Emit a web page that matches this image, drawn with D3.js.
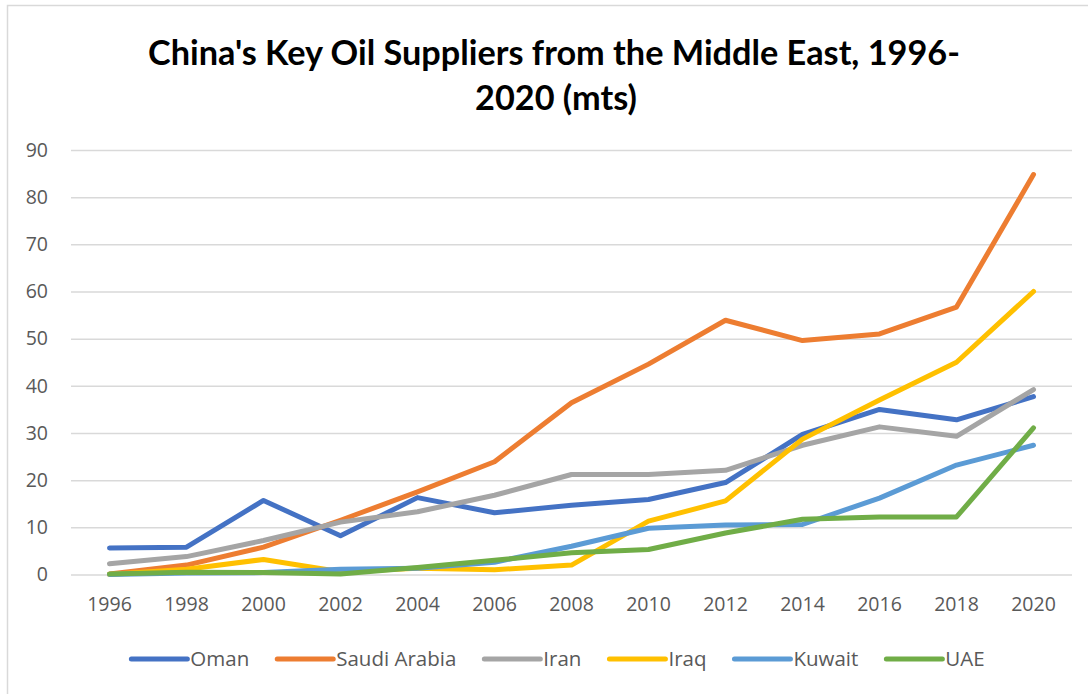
<!DOCTYPE html>
<html>
<head>
<meta charset="utf-8">
<script src="https://cdn.jsdelivr.net/npm/d3@7"></script>
<style>
  html, body { margin: 0; padding: 0; background: #fff; }
  svg { display: block; }
</style>
</head>
<body>
<svg id="chart" width="1088" height="694"></svg>
<script>
const years = ["1996","1998","2000","2002","2004","2006","2008","2010","2012","2014","2016","2018","2020"];
const yTicks = [0,10,20,30,40,50,60,70,80,90];
const seriesNames = ["Oman","Saudi Arabia","Iran","Iraq","Kuwait","UAE"];
const seriesColors = ["#4472C4","#ED7D31","#A5A5A5","#FFC000","#5B9BD5","#70AD47"];
const oman   = [5.6, 5.8, 15.7, 8.2, 16.3, 13.1, 14.7, 15.9, 19.5, 29.7, 35.0, 32.8, 37.7];
const saudi  = [0.1, 2.0, 5.8, 11.5, 17.5, 23.9, 36.4, 44.6, 53.9, 49.6, 51.0, 56.7, 84.8];
const iran   = [2.3, 3.8, 7.2, 11.1, 13.3, 16.8, 21.2, 21.2, 22.1, 27.4, 31.3, 29.3, 39.2];
const iraq   = [0.0, 1.1, 3.2, 0.6, 1.3, 1.0, 2.0, 11.3, 15.6, 28.7, 37.0, 45.0, 60.0];
const kuwait = [0.0, 0.3, 0.4, 1.1, 1.3, 2.6, 6.0, 9.8, 10.5, 10.6, 16.2, 23.2, 27.4];
const uae    = [0.1, 0.5, 0.4, 0.1, 1.5, 3.0, 4.6, 5.3, 8.8, 11.7, 12.2, 12.2, 31.1];
const seriesValues = [oman, saudi, iran, iraq, kuwait, uae];
const titleLines = ["China's Key Oil Suppliers from the Middle East, 1996-", "2020 (mts)"];

const svg = d3.select("#chart");

// outer chart border (only top/left visible in frame)
svg.append("rect")
  .attr("x", 7.5).attr("y", 5.5).attr("width", 1100).attr("height", 720)
  .attr("fill", "#fff").attr("stroke", "#d9d9d9").attr("stroke-width", 1.5);

const plot = {left: 71, right: 1072, top: 150, bottom: 574.5};

const x = d3.scaleBand().domain(years).range([plot.left, plot.right]);
const y = d3.scaleLinear().domain([0, 90]).range([plot.bottom, plot.top]);

// gridlines
const yAxis = d3.axisLeft(y).tickValues(yTicks).tickSize(-(plot.right - plot.left)).tickPadding(23);
const gy = svg.append("g").attr("transform", `translate(${plot.left},0)`).call(yAxis);
gy.select(".domain").remove();
gy.selectAll(".tick line").attr("stroke", "#d9d9d9").attr("stroke-width", 1.5);
gy.selectAll(".tick text")
  .attr("fill", "#595959").style("font-family", "'Open Sans', sans-serif").style("font-size", "19.5px");

// x axis
const xAxis = d3.axisBottom(x).tickSize(0).tickPadding(23);
const gx = svg.append("g").attr("transform", `translate(0,${plot.bottom})`).call(xAxis);
gx.select(".domain").remove();
gx.selectAll(".tick text")
  .attr("fill", "#595959").style("font-family", "'Open Sans', sans-serif").style("font-size", "19.5px");

// lines
const line = d3.line()
  .x((d, i) => x(years[i]) + x.bandwidth() / 2)
  .y(d => y(d));

seriesValues.forEach((vals, k) => {
  svg.append("path")
    .datum(vals)
    .attr("d", line)
    .attr("fill", "none")
    .attr("stroke", seriesColors[k])
    .attr("stroke-width", 5)
    .attr("stroke-linecap", "round")
    .attr("stroke-linejoin", "round");
});

// title
const title = svg.append("g");
const t1 = title.append("text").attr("x", 554).attr("y", 65).attr("text-anchor", "middle")
  .style("font-family", "Lato, sans-serif").style("font-weight", "bold").style("font-size", "28px")
  .attr("fill", "#000").text(titleLines[0]);
// fit title width to the reference (~812px)
const w1 = t1.node().getComputedTextLength();
const fs = 28 * 812 / w1;
t1.style("font-size", fs + "px");
title.append("text").attr("x", 556).attr("y", 110).attr("text-anchor", "middle")
  .style("font-family", "Lato, sans-serif").style("font-weight", "bold").style("font-size", fs + "px")
  .attr("fill", "#000").text(titleLines[1]);

// legend
const legend = svg.append("g");
const symLen = 56, symGap = 3, itemGap = 28, legY = 659;
const items = seriesNames.map((name, k) => {
  const g = legend.append("g");
  g.append("line").attr("x1", 0).attr("x2", symLen).attr("y1", 0).attr("y2", 0)
    .attr("stroke", seriesColors[k]).attr("stroke-width", 5).attr("stroke-linecap", "round");
  const t = g.append("text").attr("x", symLen + symGap).attr("y", 0).attr("dy", "0.35em")
    .attr("fill", "#595959").style("font-family", "'Open Sans', sans-serif").style("font-size", "20.5px")
    .text(name);
  return {g, w: symLen + symGap + t.node().getComputedTextLength()};
});
const total = d3.sum(items, d => d.w) + itemGap * (items.length - 1);
let cx = 558 - total / 2;
items.forEach(it => {
  it.g.attr("transform", `translate(${cx},${legY})`);
  cx += it.w + itemGap;
});
</script>
</body>
</html>
